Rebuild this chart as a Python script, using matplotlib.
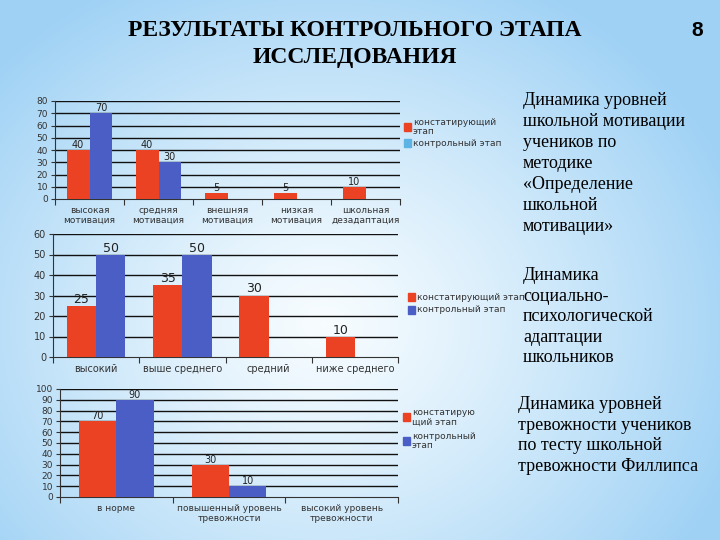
import numpy as np
import matplotlib
matplotlib.use("Agg")
import matplotlib.pyplot as plt
import matplotlib.patches as mpatches

# chart 1: school motivation
cats1 = ["высокая\nмотивация", "средняя\nмотивация", "внешняя\nмотивация",
         "низкая\nмотивация", "школьная\nдезадаптация"]
red1 = [40, 40, 5, 5, 10]
blue1 = [70, 30, 0, 0, 0]
ticks1 = [0, 10, 20, 30, 40, 50, 60, 70, 80]

# chart 2: socio-psychological adaptation
cats2 = ["высокий", "выше среднего", "средний", "ниже среднего"]
red2 = [25, 35, 30, 10]
blue2 = [50, 50, 0, 0]
ticks2 = [0, 10, 20, 30, 40, 50, 60]

# chart 3: anxiety (Phillips test)
cats3 = ["в норме", "повышенный уровень\nтревожности", "высокий уровень\nтревожности"]
red3 = [70, 30, 0]
blue3 = [90, 10, 0]
ticks3 = [0, 10, 20, 30, 40, 50, 60, 70, 80, 90, 100]

RED = "#EA4222"
BLUE = "#4A5EC6"
LIGHTBLUE = "#5CB3E4"

fig = plt.figure(figsize=(7.2, 5.4), dpi=100)

# slide background: pale blue gradient with whitish middle
bg = fig.add_axes([0, 0, 1, 1], zorder=-10)
gx, gy = np.meshgrid(np.linspace(0, 1, 360), np.linspace(0, 1, 270))
t = np.sqrt(((gx - 0.45) / 0.62) ** 2 + ((gy - 0.6) / 0.72) ** 2)
t = np.clip(t, 0, 1) ** 1.2
white = np.array([0.97, 0.99, 1.0])
blue = np.array([0.62, 0.82, 0.96])
img = white[None, None, :] * (1 - t[..., None]) + blue[None, None, :] * t[..., None]
bg.imshow(img, extent=[0, 1, 0, 1], aspect="auto", origin="upper")
bg.axis("off")


def bar_chart(rect, cats, red, blue, ticks, fs_tick, fs_val, width):
    ax = fig.add_axes(rect)
    ax.patch.set_alpha(0)
    x = np.arange(len(cats))
    b1 = ax.bar(x - width / 2, red, width, color=RED, zorder=3)
    b2 = ax.bar(x + width / 2, blue, width, color=BLUE, zorder=3)
    for bars, vals in ((b1, red), (b2, blue)):
        ax.bar_label(bars, labels=["" if v == 0 else str(v) for v in vals],
                     fontsize=fs_val, padding=0, color="#222222")
    ax.set_xlim(-0.5, len(cats) - 0.5)
    ax.set_ylim(ticks[0], ticks[-1])
    ax.set_yticks(ticks)
    ax.tick_params(axis="y", labelsize=fs_tick, length=3, pad=2, colors="#333333")
    # tick marks sit between categories, labels in the middle
    ax.set_xticks(np.arange(len(cats) + 1) - 0.5)
    ax.set_xticklabels([])
    ax.set_xticks(x, minor=True)
    ax.set_xticklabels(cats, minor=True, fontsize=fs_tick, linespacing=1.1,
                       va="top", color="#333333")
    ax.tick_params(axis="x", which="major", length=4, color="#333333")
    ax.tick_params(axis="x", which="minor", length=0, pad=5)
    for v in ticks[1:]:
        ax.axhline(v, color="#111111", lw=1.0, zorder=1)
    for s in ("top", "right"):
        ax.spines[s].set_visible(False)
    ax.spines["left"].set_color("#333333")
    ax.spines["bottom"].set_color("#333333")
    return ax


bar_chart([55 / 720, 1 - 199 / 540, 345 / 720, 98 / 540], cats1, red1, blue1,
          ticks1, 6.5, 7, 0.33)
bar_chart([53 / 720, 1 - 357 / 540, 345 / 720, 123 / 540], cats2, red2, blue2,
          ticks2, 7, 9, 0.34)
bar_chart([60 / 720, 1 - 497 / 540, 338 / 720, 108 / 540], cats3, red3, blue3,
          ticks3, 6.5, 7, 0.33)


def legend_item(x, y, color, text):
    fig.patches.append(mpatches.Rectangle((x / 720, 1 - (y + 4) / 540), 7 / 720, 8 / 540,
                                          transform=fig.transFigure, color=color))
    fig.text((x + 9) / 720, 1 - y / 540, text, fontsize=6.5, va="center",
             color="#333333", linespacing=1.1)


legend_item(404, 127, RED, "констатирующий\nэтап")
legend_item(404, 143, LIGHTBLUE, "контрольный этап")
legend_item(408, 297, RED, "констатирующий этап")
legend_item(408, 310, BLUE, "контрольный этап")
legend_item(403, 417, RED, "констатирую\nщий этап")
legend_item(403, 441, BLUE, "контрольный\nэтап")

serif = "Liberation Serif"
fig.text(355 / 720, 1 - 31 / 540, "РЕЗУЛЬТАТЫ КОНТРОЛЬНОГО ЭТАПА", fontsize=17,
         fontweight="bold", family=serif, ha="center", va="center")
fig.text(355 / 720, 1 - 58 / 540, "ИССЛЕДОВАНИЯ", fontsize=17,
         fontweight="bold", family=serif, ha="center", va="center")
fig.text(697 / 720, 1 - 31 / 540, "8", fontsize=15, fontweight="bold",
         family="Liberation Sans", ha="center", va="center")

fig.text(523 / 720, 1 - 92 / 540,
         "Динамика уровней\nшкольной мотивации\nучеников по\nметодике\n«Определение\nшкольной\nмотивации»",
         fontsize=13, family=serif, va="top", linespacing=1.31)
fig.text(523 / 720, 1 - 267 / 540,
         "Динамика\nсоциально-\nпсихологической\nадаптации\nшкольников",
         fontsize=13, family=serif, va="top", linespacing=1.27)
fig.text(518 / 720, 1 - 396 / 540,
         "Динамика уровней\nтревожности учеников\nпо тесту школьной\nтревожности Филлипса",
         fontsize=13, family=serif, va="top", linespacing=1.28)

fig.savefig("out.png", dpi=100)
